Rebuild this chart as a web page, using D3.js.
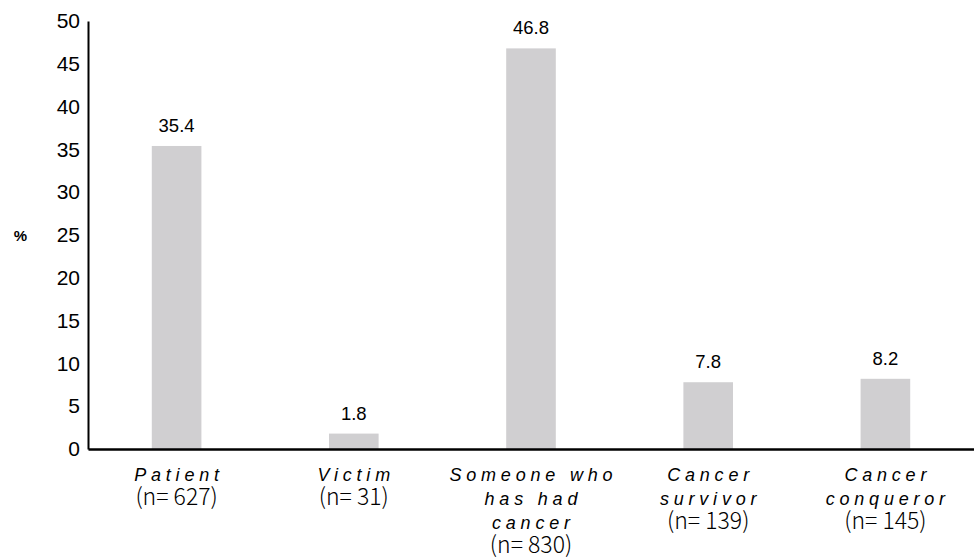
<!DOCTYPE html>
<html>
<head>
<meta charset="utf-8">
<script src="https://cdn.jsdelivr.net/npm/d3@7"></script>
<style>
  body { margin: 0; background: #fff; }
  svg { display: block; }
  .tick-label { font-family: "Liberation Sans", Arial, sans-serif; font-size: 21px; fill: #000; }
  .val-label { font-family: "Liberation Sans", Arial, sans-serif; font-size: 18.5px; fill: #000; }
  .cat-label { font-family: "Liberation Sans", Arial, sans-serif; font-size: 18px; font-style: italic; letter-spacing: 4.8px; fill: #000; }
  .n-label { font-family: "Noto Sans CJK SC", "Noto Sans", sans-serif; font-size: 23px; font-weight: 300; fill: #000; }
</style>
</head>
<body>
<div id="chart"></div>
<script>
// data
const categories = ["Patient", "Victim", "Someone who has had cancer", "Cancer survivor", "Cancer conqueror"];
const catLines = [["Patient"], ["Victim"], ["Someone who", "has had", "cancer"], ["Cancer", "survivor"], ["Cancer", "conqueror"]];
const sampleSizes = ["(n= 627)", "(n= 31)", "(n= 830)", "(n= 139)", "(n= 145)"];
const percents = [35.4, 1.8, 46.8, 7.8, 8.2];
const yTicks = [0, 5, 10, 15, 20, 25, 30, 35, 40, 45, 50];

const svgWidth = 974;
const svgHeight = 560;
const margin = { top: 21, right: 0, bottom: 111, left: 88 };
const width = svgWidth - margin.left - margin.right;
const height = svgHeight - margin.top - margin.bottom;

const svg = d3.select("#chart")
  .append("svg")
  .attr("width", svgWidth)
  .attr("height", svgHeight);

const chartGroup = svg.append("g")
  .attr("transform", `translate(${margin.left}, ${margin.top})`);

const xScale = d3.scaleBand()
  .domain(categories)
  .range([0, width])
  .paddingInner(0.72)
  .paddingOuter(0.36);

const yScale = d3.scaleLinear()
  .domain([0, 50])
  .range([height, 0]);

// bars
chartGroup.selectAll("rect.bar")
  .data(percents)
  .enter()
  .append("rect")
  .attr("class", "bar")
  .attr("x", (d, i) => xScale(categories[i]))
  .attr("y", d => yScale(d))
  .attr("width", xScale.bandwidth())
  .attr("height", d => height - yScale(d))
  .attr("fill", "#d0cfd1");

// value labels
chartGroup.selectAll("text.val-label")
  .data(percents)
  .enter()
  .append("text")
  .attr("class", "val-label")
  .attr("x", (d, i) => xScale(categories[i]) + xScale.bandwidth() / 2)
  .attr("y", d => yScale(d) - 14)
  .attr("text-anchor", "middle")
  .text(d => d.toFixed(1));

// y axis
const leftAxis = d3.axisLeft(yScale).tickValues(yTicks).tickSize(0).tickPadding(8);
const yAxisG = chartGroup.append("g").call(leftAxis);
yAxisG.select(".domain").attr("stroke", "#000").attr("stroke-width", 2);
yAxisG.selectAll(".tick text").attr("class", "tick-label").attr("font-size", null).attr("font-family", null);

// x axis line
const bottomAxis = d3.axisBottom(xScale).tickSize(0).tickFormat("");
const xAxisG = chartGroup.append("g")
  .attr("transform", `translate(0, ${height})`)
  .call(bottomAxis);
xAxisG.select(".domain").attr("stroke", "#000").attr("stroke-width", 2.5);

// category labels
const lineH = 24;
categories.forEach(function (c, i) {
  const cx = xScale(c) + xScale.bandwidth() / 2;
  const g = chartGroup.append("g");
  catLines[i].forEach(function (line, j) {
    g.append("text")
      .attr("class", "cat-label")
      .attr("x", cx + 2.4)
      .attr("y", height + 32 + j * lineH)
      .attr("text-anchor", "middle")
      .text(line);
  });
  g.append("text")
    .attr("class", "n-label")
    .attr("x", cx)
    .attr("y", height + 32 + catLines[i].length * lineH)
    .attr("text-anchor", "middle")
    .text(sampleSizes[i]);
});

// y axis title
svg.append("text")
  .attr("x", 20.5)
  .attr("y", 241)
  .attr("text-anchor", "middle")
  .style("font-family", "Liberation Sans, Arial, sans-serif")
  .style("font-size", "15px")
  .style("font-weight", "bold")
  .text("%");
</script>
</body>
</html>
